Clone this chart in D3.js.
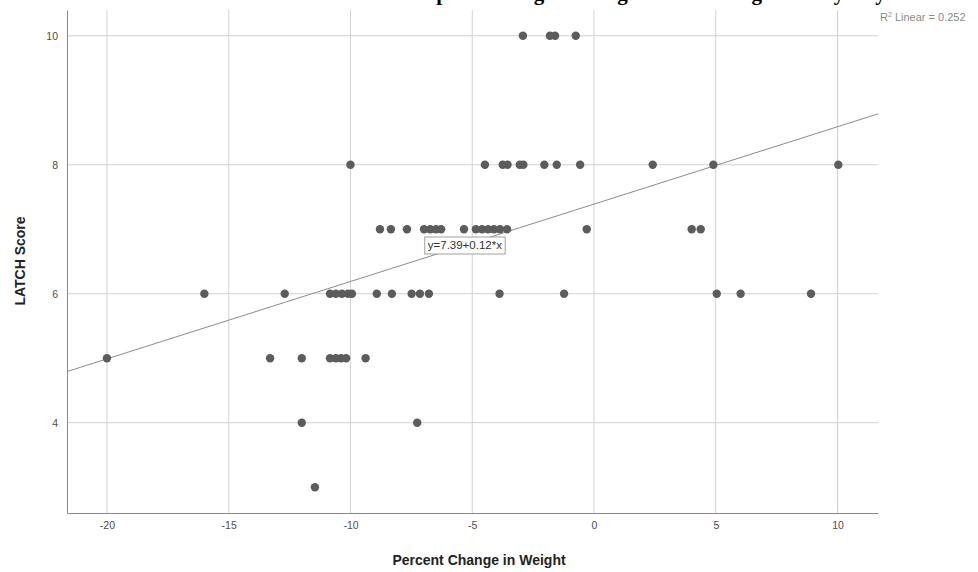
<!DOCTYPE html>
<html>
<head>
<meta charset="utf-8">
<script src="https://cdn.jsdelivr.net/npm/d3@7"></script>
<style>
	body { margin: 0; background: #fff; }
	svg { display: block; }
</style>
</head>
<body>
<svg id="scatter"></svg>
<script>
// ========== DATA ==========
// percent change in weight, grouped by LATCH score
var score10 = [-2.92, -1.81, -1.6, -0.75];
var score8 = [-10.0, -4.48, -3.75, -3.55, -3.05, -2.9, -2.04, -1.53, -0.57, 2.41, 4.9, 10.03];
var score7 = [-8.79, -8.34, -7.68, -6.98, -6.73, -6.49, -6.28, -5.34, -4.85, -4.6, -4.35, -4.11, -3.86, -3.57, -0.3, 4.01, 4.38];
var score6 = [-16.0, -12.7, -10.84, -10.6, -10.35, -10.1, -9.94, -8.92, -8.3, -7.49, -7.15, -6.78, -3.88, -1.23, 5.04, 6.02, 8.91];
var score5 = [-20.0, -13.3, -12.0, -10.84, -10.6, -10.39, -10.18, -9.38];
var score4 = [-12.0, -7.26];
var score3 = [-11.46];

var xTicks = [-20, -15, -10, -5, 0, 5, 10];
var yTicks = [4, 6, 8, 10];

var fitIntercept = 7.39;
var fitSlope = 0.12;
var rSquared = 0.252;

makeScatter();

function makeScatter() {
	// ========== CONSTANTS ==========
	var width = 978;
	var height = 572;
	var left = 67, right = 878, top = 10, bottom = 513;

	var grid_color = '#d2d2d2';
	var axis_color = '#8a8a8a';
	var dot_color = '#5c5c5c';
	var text_color = '#4d4d4d';

	var groups = [[10, score10], [8, score8], [7, score7], [6, score6], [5, score5], [4, score4], [3, score3]];
	var points = [];
	groups.forEach(function(g) {
		g[1].forEach(function(v) { points.push({ pct: v, latch: g[0] }); });
	});

	var x = d3.scaleLinear()
		.domain([-21.64, 11.66])
		.range([left, right]);
	var y = d3.scaleLinear()
		.domain([2.6, 10.4])
		.range([bottom, top]);

	var svg = d3.select('svg#scatter')
		.attr('width', width)
		.attr('height', height);

	// ========== TITLE (only its bottom shows, as in the source) ==========
	svg.append('text')
		.attr('x', 372)
		.attr('y', 0)
		.attr('font-family', '"Liberation Serif", "Times New Roman", serif')
		.attr('font-weight', 'bold')
		.attr('font-size', 21)
		.attr('fill', '#000')
		.text('Scatterplot of Weight Change and Latching Score by Day');

	// ========== GRID ==========
	svg.append('g')
		.selectAll('line')
		.data(xTicks)
		.enter().append('line')
			.attr('x1', function(d) { return x(d); })
			.attr('x2', function(d) { return x(d); })
			.attr('y1', top)
			.attr('y2', bottom)
			.attr('stroke', grid_color);

	svg.append('g')
		.selectAll('line')
		.data(yTicks)
		.enter().append('line')
			.attr('x1', left)
			.attr('x2', right)
			.attr('y1', function(d) { return y(d); })
			.attr('y2', function(d) { return y(d); })
			.attr('stroke', grid_color);

	// ========== AXES ==========
	// plain hyphen minus like the source
	var fmt = function(d) { return String(d); };
	var xAxis = svg.append('g')
		.attr('transform', 'translate(0,' + bottom + ')')
		.call(d3.axisBottom(x).tickValues(xTicks).tickFormat(fmt).tickSize(0).tickPadding(9));
	var yAxis = svg.append('g')
		.attr('transform', 'translate(' + left + ',0)')
		.call(d3.axisLeft(y).tickValues(yTicks).tickFormat(fmt).tickSize(0).tickPadding(9));

	[xAxis, yAxis].forEach(function(a) {
		a.select('.domain').attr('stroke', axis_color);
		a.selectAll('text')
			.attr('fill', text_color)
			.attr('font-family', 'Arial, "Liberation Sans", sans-serif')
			.attr('font-size', 10.5);
	});

	svg.append('text')
		.attr('x', 479)
		.attr('y', 565)
		.attr('text-anchor', 'middle')
		.attr('font-family', 'Arial, "Liberation Sans", sans-serif')
		.attr('font-weight', 'bold')
		.attr('font-size', 14)
		.attr('fill', '#222')
		.text('Percent Change in Weight');

	svg.append('text')
		.attr('transform', 'translate(25,261)rotate(-90)')
		.attr('text-anchor', 'middle')
		.attr('font-family', 'Arial, "Liberation Sans", sans-serif')
		.attr('font-weight', 'bold')
		.attr('font-size', 14)
		.attr('fill', '#222')
		.text('LATCH Score');

	// ========== FIT LINE ==========
	var xd = x.domain();
	svg.append('line')
		.attr('x1', x(xd[0]))
		.attr('y1', y(fitIntercept + fitSlope * xd[0]))
		.attr('x2', x(xd[1]))
		.attr('y2', y(fitIntercept + fitSlope * xd[1]))
		.attr('stroke', '#8c8c8c')
		.attr('stroke-width', 1);

	// ========== POINTS ==========
	svg.append('g')
		.selectAll('circle')
		.data(points)
		.enter().append('circle')
			.attr('cx', function(d) { return x(d.pct); })
			.attr('cy', function(d) { return y(d.latch); })
			.attr('r', 4.2)
			.attr('fill', dot_color);

	// equation label
	var eq = svg.append('g')
		.attr('transform', 'translate(' + x(-6.95) + ',' + y(6.88) + ')');
	var eqText = eq.append('text')
		.attr('x', 3)
		.attr('y', 12)
		.attr('font-family', 'Arial, "Liberation Sans", sans-serif')
		.attr('font-size', 11.5)
		.attr('fill', '#333')
		.text('y=' + fitIntercept + '+' + fitSlope + '*x');
	var bb = eqText.node().getBBox();
	eq.insert('rect', 'text')
		.attr('x', 0)
		.attr('y', 0)
		.attr('width', bb.width + 6)
		.attr('height', 17)
		.attr('fill', '#fff')
		.attr('stroke', '#a0a0a0');

	// R squared note, runs to the right edge
	var r2 = svg.append('text')
		.attr('x', 880)
		.attr('y', 21)
		.attr('font-family', 'Arial, "Liberation Sans", sans-serif')
		.attr('font-size', 11)
		.attr('fill', '#8a8a8a');
	r2.append('tspan').text('R');
	r2.append('tspan').attr('dy', -4).attr('font-size', 7).text('2');
	r2.append('tspan').attr('dy', 4).text(' Linear = ' + rSquared);
}
</script>
</body>
</html>
